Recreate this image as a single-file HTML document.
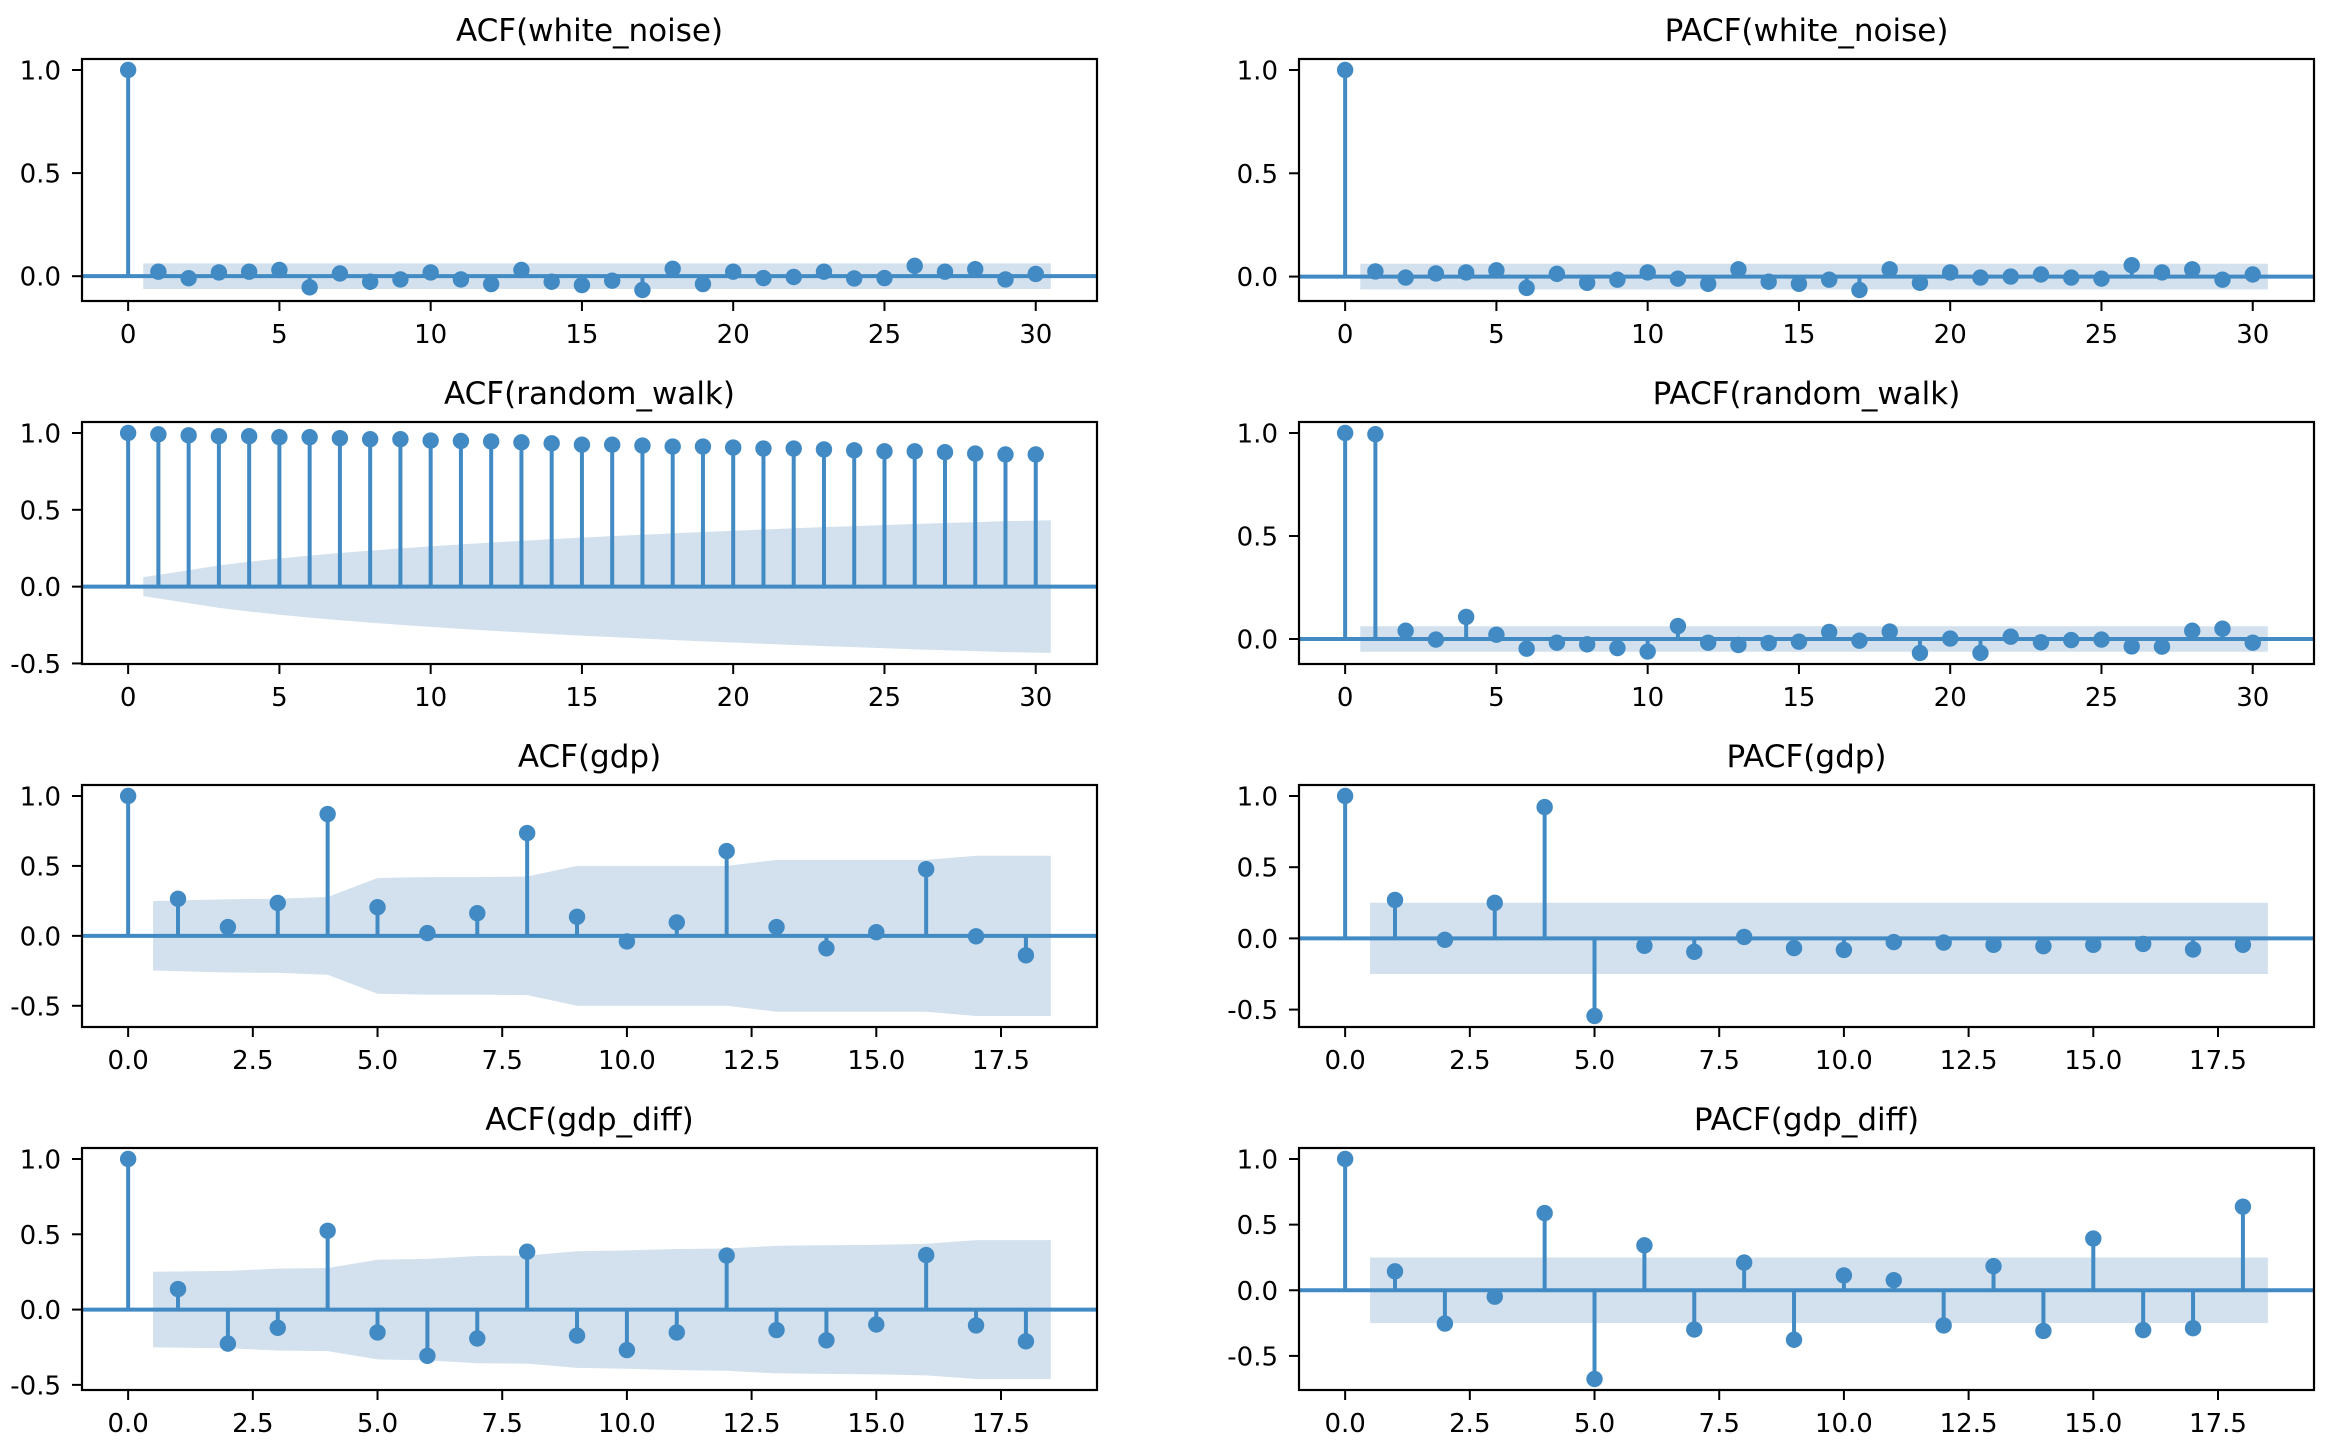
<!DOCTYPE html>
<html><head><meta charset="utf-8"><style>
html,body{margin:0;padding:0;background:#fff;}
svg{display:block;font-family:"DejaVu Sans","Liberation Sans",sans-serif;}
</style></head><body>
<svg id="fig" width="2330" height="1450" viewBox="0 0 2330 1450" xmlns="http://www.w3.org/2000/svg"></svg>
<script>
// ---- data ----
const wnAcf = [1,0.022,-0.01,0.018,0.022,0.03,-0.054,0.013,-0.027,-0.016,0.018,-0.016,-0.038,0.03,-0.027,-0.043,-0.022,-0.067,0.036,-0.038,0.022,-0.009,-0.004,0.022,-0.011,-0.009,0.05,0.022,0.034,-0.016,0.011];
const wnAcfBand = [0.062,0.062,0.062,0.062,0.062,0.062,0.062,0.062,0.062,0.062,0.062,0.062,0.062,0.062,0.062,0.062,0.062,0.062,0.062,0.062,0.062,0.062,0.062,0.062,0.062,0.062,0.062,0.062,0.062,0.062];
const wnPacf = [1,0.025,-0.005,0.015,0.02,0.03,-0.055,0.013,-0.03,-0.015,0.02,-0.01,-0.035,0.035,-0.025,-0.035,-0.015,-0.065,0.035,-0.03,0.02,-0.005,0.0,0.01,-0.005,-0.01,0.055,0.02,0.035,-0.015,0.01];
const wnPacfBand = wnAcfBand;
const rwAcf = [1,0.991,0.985,0.979,0.979,0.973,0.973,0.966,0.96,0.96,0.951,0.948,0.945,0.939,0.933,0.924,0.924,0.918,0.912,0.912,0.905,0.899,0.899,0.893,0.887,0.881,0.881,0.875,0.866,0.86,0.86];
const rwAcfBand = [0.062,0.107,0.138,0.162,0.183,0.202,0.219,0.234,0.249,0.262,0.275,0.287,0.298,0.309,0.319,0.329,0.338,0.347,0.356,0.364,0.372,0.38,0.387,0.394,0.401,0.408,0.414,0.42,0.426,0.432];
const rwPacf = [1,0.994,0.04,-0.003,0.107,0.021,-0.047,-0.018,-0.026,-0.044,-0.061,0.063,-0.018,-0.029,-0.019,-0.013,0.034,-0.008,0.036,-0.068,0.002,-0.068,0.011,-0.016,-0.005,-0.003,-0.036,-0.037,0.04,0.05,-0.018];
const rwPacfBand = wnAcfBand;
const gdpAcf = [1,0.265,0.063,0.235,0.871,0.205,0.02,0.162,0.735,0.136,-0.04,0.096,0.606,0.063,-0.089,0.026,0.477,-0.003,-0.139];
const gdpAcfBand = [0.248,0.262,0.265,0.278,0.414,0.42,0.42,0.424,0.5,0.5,0.5,0.5,0.543,0.543,0.543,0.543,0.573,0.573];
const gdpPacf = [1,0.27,-0.01,0.25,0.922,-0.545,-0.052,-0.094,0.01,-0.068,-0.081,-0.026,-0.029,-0.045,-0.055,-0.045,-0.039,-0.078,-0.045];
const gdpPacfBand = [0.25,0.25,0.25,0.25,0.25,0.25,0.25,0.25,0.25,0.25,0.25,0.25,0.25,0.25,0.25,0.25,0.25,0.25];
const gdpdAcf = [1,0.136,-0.226,-0.121,0.523,-0.152,-0.307,-0.192,0.384,-0.173,-0.269,-0.152,0.359,-0.136,-0.204,-0.099,0.362,-0.105,-0.211];
const gdpdAcfBand = [0.251,0.257,0.272,0.276,0.331,0.337,0.356,0.359,0.387,0.393,0.402,0.406,0.424,0.427,0.43,0.437,0.461,0.461];
const gdpdPacf = [1,0.144,-0.254,-0.049,0.588,-0.676,0.342,-0.299,0.211,-0.377,0.113,0.077,-0.268,0.183,-0.31,0.394,-0.303,-0.289,0.637];
const gdpdPacfBand = gdpPacfBand;
const ticks30 = [0,5,10,15,20,25,30];
const ticks30Labels = ["0","5","10","15","20","25","30"];
const ticks18 = [0,2.5,5,7.5,10,12.5,15,17.5];
const ticks18Labels = ["0.0","2.5","5.0","7.5","10.0","12.5","15.0","17.5"];
const yTicks = [-0.5,0,0.5,1.0];
const yTickLabels = ["-0.5","0.0","0.5","1.0"];

const panels = [
 {name:"acf-white-noise",title:"ACF(white_noise)",v:wnAcf,b:wnAcfBand,xt:ticks30,xl:ticks30Labels,col:0,row:0},
 {name:"pacf-white-noise",title:"PACF(white_noise)",v:wnPacf,b:wnPacfBand,xt:ticks30,xl:ticks30Labels,col:1,row:0},
 {name:"acf-random-walk",title:"ACF(random_walk)",v:rwAcf,b:rwAcfBand,xt:ticks30,xl:ticks30Labels,col:0,row:1},
 {name:"pacf-random-walk",title:"PACF(random_walk)",v:rwPacf,b:rwPacfBand,xt:ticks30,xl:ticks30Labels,col:1,row:1},
 {name:"acf-gdp",title:"ACF(gdp)",v:gdpAcf,b:gdpAcfBand,xt:ticks18,xl:ticks18Labels,col:0,row:2},
 {name:"pacf-gdp",title:"PACF(gdp)",v:gdpPacf,b:gdpPacfBand,xt:ticks18,xl:ticks18Labels,col:1,row:2},
 {name:"acf-gdp-diff",title:"ACF(gdp_diff)",v:gdpdAcf,b:gdpdAcfBand,xt:ticks18,xl:ticks18Labels,col:0,row:3},
 {name:"pacf-gdp-diff",title:"PACF(gdp_diff)",v:gdpdPacf,b:gdpdPacfBand,xt:ticks18,xl:ticks18Labels,col:1,row:3}
];

const NS="http://www.w3.org/2000/svg";
const fig=document.getElementById('fig');
const C="#428ac3", FILL="#d3e1ee";
const colX=[82,1299], AW=1015, rowY=[59,422,785,1148], AH=242;
function mk(tag,attrs,parent){const e=document.createElementNS(NS,tag);for(const k in attrs)e.setAttribute(k,attrs[k]);parent.appendChild(e);return e;}

panels.forEach(p=>{
  const x0=colX[p.col], y0=rowY[p.row];
  const g=mk('g',{},fig);
  
  
  const N=p.v.length-1;
  const xmin=-0.05*(N+0.5), xmax=(N+0.5)*1.05;
  let lo=0,hi=0;
  p.v.forEach(v=>{lo=Math.min(lo,v);hi=Math.max(hi,v);});
  p.b.forEach(b=>{lo=Math.min(lo,-b);hi=Math.max(hi,b);});
  const pad=(hi-lo)*0.05; const ymin=lo-pad, ymax=hi+pad;
  const sx=x=>x0+(x-xmin)/(xmax-xmin)*AW;
  const sy=y=>y0+AH-(y-ymin)/(ymax-ymin)*AH;
  const bx=p.b.map((b,i)=> i===0?0.5:(i===p.b.length-1?N+0.5:i+1));
  let d='M'+sx(bx[0])+','+sy(p.b[0]);
  for(let i=1;i<p.b.length;i++) d+=' L'+sx(bx[i])+','+sy(p.b[i]);
  for(let i=p.b.length-1;i>=0;i--) d+=' L'+sx(bx[i])+','+sy(-p.b[i]);
  const band=mk('path',{d:d+'Z',fill:FILL,stroke:'none'},g);
  
  
  const zl=mk('line',{x1:x0,x2:x0+AW,y1:sy(0),y2:sy(0),stroke:C,'stroke-width':4},g);
  
  
  p.v.forEach((v,i)=>{
    const s=mk('line',{x1:sx(i),x2:sx(i),y1:sy(0),y2:sy(v),stroke:C,'stroke-width':4},g);
    
    
  });
  p.v.forEach((v,i)=>{
    const m=mk('circle',{cx:sx(i),cy:sy(v),r:8.2,fill:C},g);
    
    
  });
  const fr=mk('rect',{x:x0,y:y0,width:AW,height:AH,fill:'none',stroke:'#000','stroke-width':2.2},g);
  
  
  p.xt.forEach((t,i)=>{
    mk('line',{x1:sx(t),x2:sx(t),y1:y0+AH,y2:y0+AH+10,stroke:'#000','stroke-width':2},g);
    const tx=mk('text',{x:sx(t),y:y0+AH+42,'font-size':26,'text-anchor':'middle',fill:'#000'},g);
    tx.textContent=p.xl[i];
    
    
  });
  yTicks.forEach((t,i)=>{
    if(t<ymin||t>ymax) return;
    mk('line',{x1:x0-10,x2:x0,y1:sy(t),y2:sy(t),stroke:'#000','stroke-width':2},g);
    const ty=mk('text',{x:x0-21,y:sy(t)+9.5,'font-size':26,'text-anchor':'end',fill:'#000'},g);
    ty.textContent=yTickLabels[i];
    
    
  });
  const tt=mk('text',{x:x0+AW/2,y:y0-18,'font-size':31,'text-anchor':'middle',fill:'#000'},g);
  tt.textContent=p.title;
  
  
});
</script>
</body></html>
